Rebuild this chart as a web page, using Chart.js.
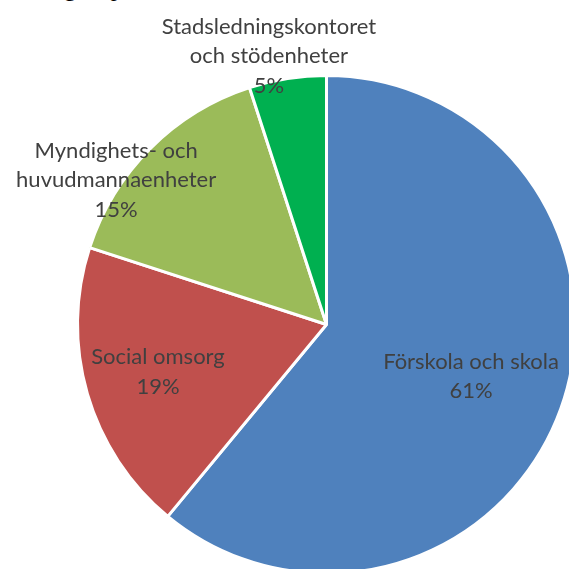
<!DOCTYPE html>
<html>
<head>
<meta charset="utf-8">
<script src="https://cdn.jsdelivr.net/npm/chart.js@4/dist/chart.umd.min.js"></script>
<style>
html,body{margin:0;padding:0;background:#fff;overflow:hidden;width:569px;height:569px;position:relative;}
#wrap{position:absolute;left:0;top:0;width:600px;height:600px;}
#head{position:absolute;left:64px;top:-24px;font-family:"Liberation Serif",serif;font-size:24px;color:#000;white-space:pre;line-height:24px;}
</style>
</head>
<body>
<div id="head">g av p</div>
<div id="wrap"><canvas id="c" width="600" height="600"></canvas></div>
<script>
const categories = [
  ["Förskola och skola"],
  ["Social omsorg"],
  ["Myndighets- och", "huvudmannaenheter"],
  ["Stadsledningskontoret", "och stödenheter"]
];
const shares = [61, 19, 15, 5];
const percentLabels = ["61%", "19%", "15%", "5%"];
const sliceColors = ["#4F81BD", "#C0504D", "#9BBB59", "#00B050"];

// label placement: fraction of radius and angle tweak (degrees)
const labelPlacement = [
  {f: 0.617, da: 0},
  {f: 0.703, da: 0.5},
  {f: 1.025, da: -10.5},
  {f: 1.103, da: -3.1}
];

const labelPlugin = {
  id: 'sliceLabels',
  afterDatasetsDraw(chart) {
    const ctx = chart.ctx;
    const meta = chart.getDatasetMeta(0);
    ctx.save();
    ctx.font = '22px Lato, "Open Sans", sans-serif';
    ctx.fillStyle = '#404040';
    ctx.textAlign = 'center';
    ctx.textBaseline = 'middle';
    const lh = 29.5;
    meta.data.forEach((arc, i) => {
      const p = arc.getProps(['x','y','startAngle','endAngle','outerRadius'], true);
      const mid = (p.startAngle + p.endAngle) / 2 + labelPlacement[i].da * Math.PI / 180;
      const r = p.outerRadius * labelPlacement[i].f;
      const cx = p.x + Math.cos(mid) * r;
      const cy = p.y + Math.sin(mid) * r;
      const lines = categories[i].concat([percentLabels[i]]);
      const top = cy - (lines.length - 1) * lh / 2;
      lines.forEach((t, k) => ctx.fillText(t, cx, top + k * lh));
    });
    ctx.restore();
  }
};

new Chart(document.getElementById('c'), {
  type: 'pie',
  data: {
    labels: categories.map(c => c.join(' ')),
    datasets: [{
      data: shares,
      backgroundColor: sliceColors,
      borderColor: '#ffffff',
      borderWidth: 3
    }]
  },
  options: {
    responsive: false,
    animation: false,
    layout: {padding: {left: 76, top: 74, right: 23, bottom: 25}},
    plugins: {legend: {display: false}, tooltip: {enabled: false}}
  },
  plugins: [labelPlugin]
});
</script>
</body>
</html>
